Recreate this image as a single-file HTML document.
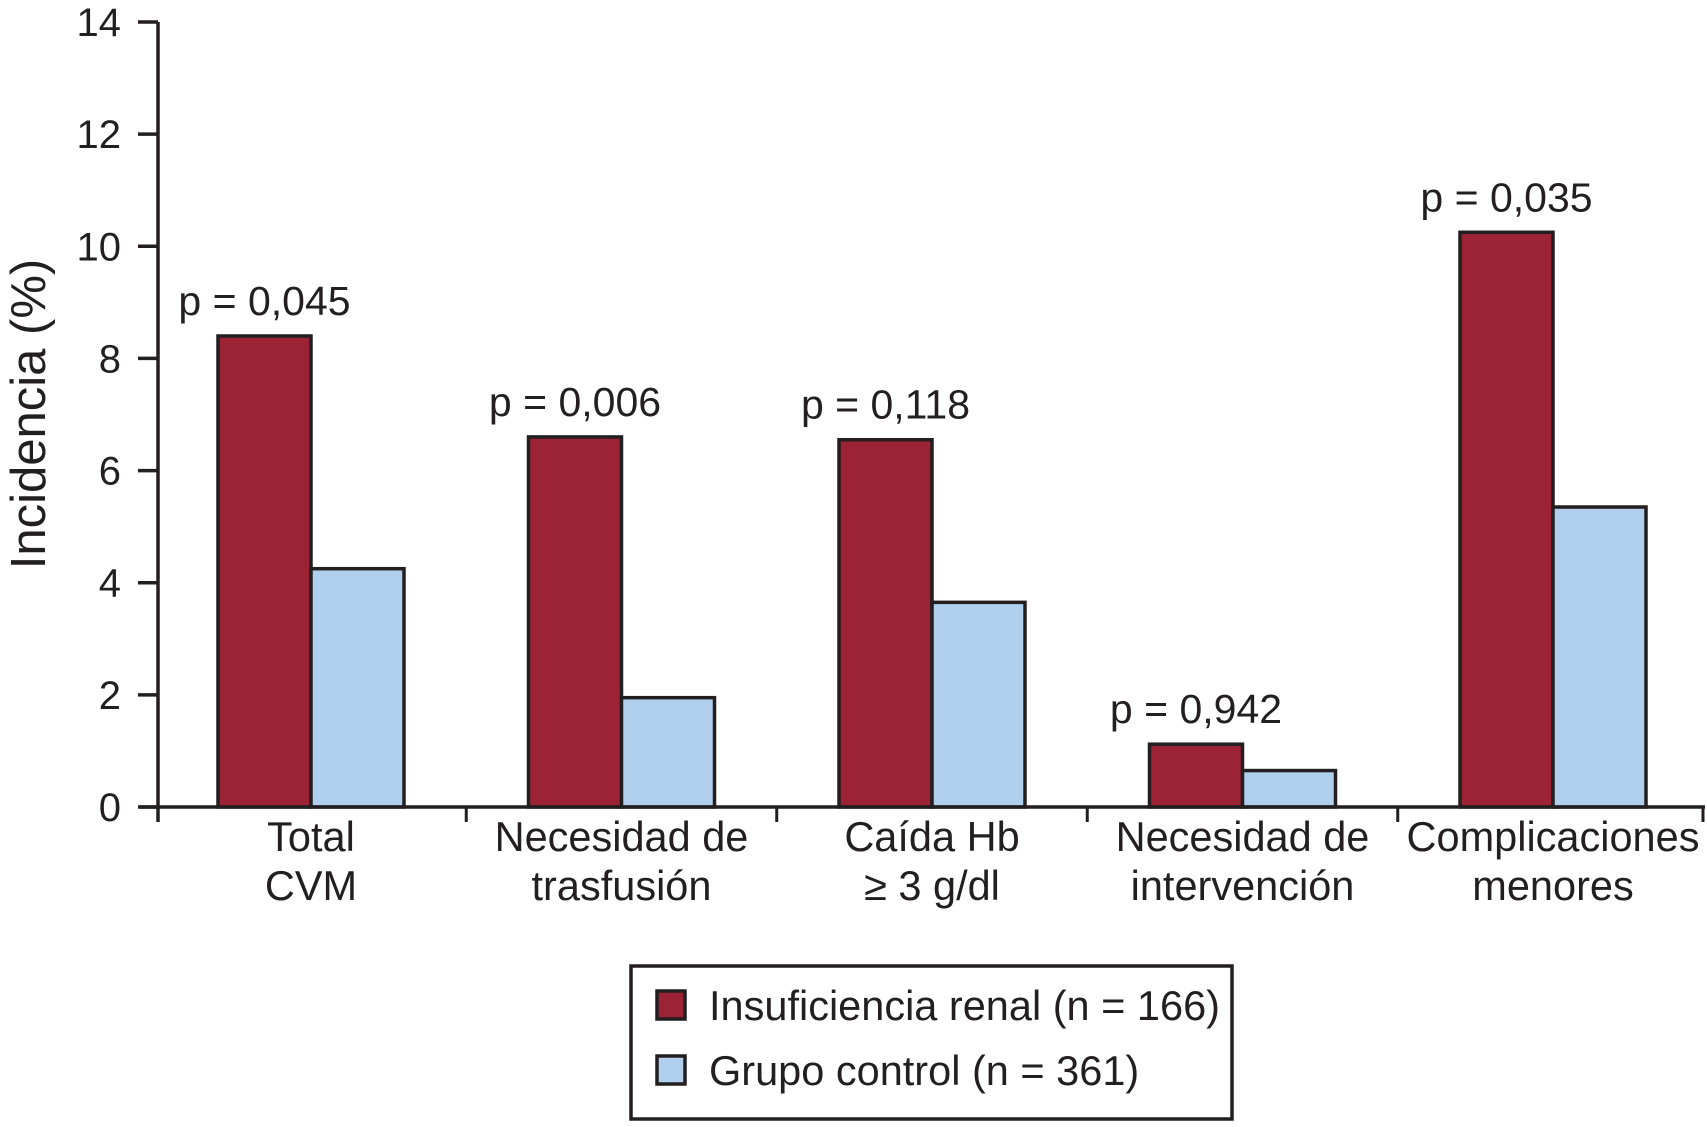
<!DOCTYPE html>
<html><head><meta charset="utf-8"><style>
html,body{margin:0;padding:0;background:#fff;}
svg text{font-family:"Liberation Sans",sans-serif;fill:#231f20;}
.narrow{font-family:"Liberation Sans Narrow","Liberation Sans",sans-serif;}
</style></head><body>
<svg id="chart" width="1707" height="1122" viewBox="0 0 1707 1122" xmlns="http://www.w3.org/2000/svg"></svg>
<script>
const categories = [["Total","CVM"],["Necesidad de","trasfusión"],["Caída Hb","≥ 3 g/dl"],["Necesidad de","intervención"],["Complicaciones","menores"]];
const renalValues = [8.4, 6.6, 6.55, 1.12, 10.25];
const controlValues = [4.25, 1.95, 3.65, 0.65, 5.35];
const pLabels = ["p = 0,045","p = 0,006","p = 0,118","p = 0,942","p = 0,035"];
const yTicks = [0,2,4,6,8,10,12,14];

const NS="http://www.w3.org/2000/svg";
const svg=document.getElementById('chart');
const y0=807, yTop=22, yMax=14;
const yScale=v=>y0-(v/yMax)*(y0-yTop);
const groupStart=i=>218+i*310.5;
const barW=93;
function mk(tag,attrs,parent){const e=document.createElementNS(NS,tag);for(const k in attrs)e.setAttribute(k,attrs[k]);(parent||svg).appendChild(e);return e;}

categories.forEach((c,i)=>{
  const x=groupStart(i);
  const r=mk('rect',{x:x,y:yScale(renalValues[i]),width:barW,height:y0-yScale(renalValues[i]),fill:'#9b2335',stroke:'#231f20','stroke-width':3.5});
  
  
  const b=mk('rect',{x:x+barW,y:yScale(controlValues[i]),width:barW,height:y0-yScale(controlValues[i]),fill:'#afcfec',stroke:'#231f20','stroke-width':3.5});
  
  
  const p=mk('text',{x:x+barW/2,y:yScale(renalValues[i])-21,'text-anchor':'middle','font-size':41});
  p.textContent=pLabels[i];
  
  
  const t=mk('text',{x:x+barW,y:851,'text-anchor':'middle','font-size':41.5,class:'narrow'});
  
  
  c.forEach((line,j)=>{const ts=mk('tspan',{x:x+barW,dy:j?49:0},t);ts.textContent=line;});
});

const ya=mk('line',{x1:158,y1:22,x2:158,y2:822,stroke:'#231f20','stroke-width':3.5});


const xa=mk('line',{x1:140,y1:y0,x2:1705,y2:y0,stroke:'#231f20','stroke-width':3.5});


yTicks.forEach(v=>{
  const tk=mk('line',{x1:138,y1:yScale(v),x2:158,y2:yScale(v),stroke:'#231f20','stroke-width':3.5});
  
  
  const tl=mk('text',{x:121,y:yScale(v)+14,'text-anchor':'end','font-size':40});
  tl.textContent=v;
  
  
});
for(let i=1;i<=5;i++){
  const xx=i<5?groupStart(i)-(310.5-2*barW)/2:1703;
  const tk=mk('line',{x1:xx,y1:y0,x2:xx,y2:822,stroke:'#231f20','stroke-width':3});
  
  
}
const yt=mk('text',{x:0,y:0,'text-anchor':'middle','font-size':49,class:'narrow',transform:'translate(45,414) rotate(-90)'});
yt.textContent='Incidencia (%)';



const lg=mk('g',{});


mk('rect',{x:631,y:966,width:601,height:153,fill:'#fff',stroke:'#231f20','stroke-width':3.5},lg);
const entries=[['#9b2335','Insuficiencia renal (n = 166)',991],['#afcfec','Grupo control (n = 361)',1056]];
entries.forEach(e=>{
  const g=mk('g',{},lg);
  
  
  mk('rect',{x:657,y:e[2],width:28,height:28,fill:e[0],stroke:'#231f20','stroke-width':3.5},g);
  const t=mk('text',{x:709,y:e[2]+29,'font-size':41.5,class:'narrow'},g);
  t.textContent=e[1];
});
</script>
</body></html>
